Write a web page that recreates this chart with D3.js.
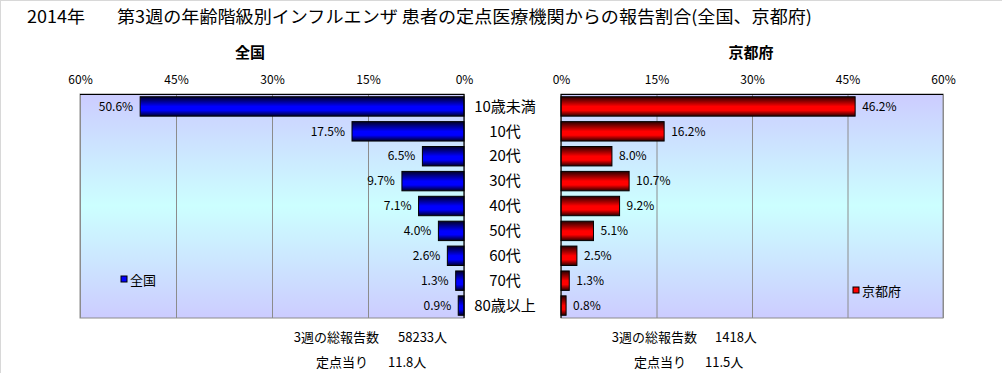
<!DOCTYPE html>
<html>
<head>
<meta charset="utf-8">
<script src="https://cdn.jsdelivr.net/npm/d3@7"></script>
<style>
  body { margin: 0; background: #fff; }
  text { font-family: "Noto Sans CJK JP", "DejaVu Sans", sans-serif; fill: #000; }
</style>
</head>
<body>
<svg id="chart" width="1002" height="373"></svg>
<script>
// age groups
var ageGroups = ["10歳未満", "10代", "20代", "30代", "40代", "50代", "60代", "70代", "80歳以上"];
// share of reports (%)
var zenkoku = [50.6, 17.5, 6.5, 9.7, 7.1, 4.0, 2.6, 1.3, 0.9];
var kyoto = [46.2, 16.2, 8.0, 10.7, 9.2, 5.1, 2.5, 1.3, 0.8];
var tickValues = [0, 15, 30, 45, 60];
var totalsZenkoku = ["58233人", "11.8人"];
var totalsKyoto = ["1418人", "11.5人"];

var svg = d3.select("#chart");
var defs = svg.append("defs");

// plot background
var bg = defs.append("linearGradient").attr("id", "bg").attr("x1", 0).attr("y1", 0).attr("x2", 0).attr("y2", 1);
bg.append("stop").attr("offset", "0%").attr("stop-color", "#ccccff");
bg.append("stop").attr("offset", "50%").attr("stop-color", "#ccffff");
bg.append("stop").attr("offset", "100%").attr("stop-color", "#ccccff");

function barGrad(id, dark, bright) {
    var g = defs.append("linearGradient").attr("id", id).attr("x1", 0).attr("y1", 0).attr("x2", 0).attr("y2", 1);
    g.append("stop").attr("offset", "0%").attr("stop-color", dark);
    g.append("stop").attr("offset", "50%").attr("stop-color", bright);
    g.append("stop").attr("offset", "70%").attr("stop-color", bright);
    g.append("stop").attr("offset", "100%").attr("stop-color", dark);
}
barGrad("blueBar", "#000028", "#0000ff");
barGrad("redBar", "#280000", "#ff0000");

// outer frame (only top/left visible)
svg.append("line").attr("x1", 0.5).attr("x2", 0.5).attr("y1", 0).attr("y2", 373).attr("stroke", "#d8d8d8");
svg.append("line").attr("x1", 0).attr("x2", 1002).attr("y1", 0.5).attr("y2", 0.5).attr("stroke", "#d8d8d8");

// title
svg.append("text").attr("x", 27).attr("y", 23).style("font-size", "17.5px")
    .attr("textLength", 58).attr("lengthAdjust", "spacingAndGlyphs").text("2014年");
svg.append("text").attr("x", 117).attr("y", 23).style("font-size", "17px")
    .attr("textLength", 695).attr("lengthAdjust", "spacingAndGlyphs")
    .text("第3週の年齢階級別インフルエンザ 患者の定点医療機関からの報告割合(全国、京都府)");

var plotTop = 94, plotBottom = 318;

var y = d3.scaleBand().domain(ageGroups).range([plotTop, plotBottom]).paddingInner(0.22).paddingOuter(0.11);

var xLeft = d3.scaleLinear().domain([0, 60]).range([464, 80]);
var xRight = d3.scaleLinear().domain([0, 60]).range([561, 943]);

function panel(x, values, grad, labelSide, subtitle, subX, legend) {
    var x0 = x(0), x1 = x(60);
    var left = Math.min(x0, x1), w = Math.abs(x1 - x0);

    svg.append("rect").attr("x", left).attr("y", plotTop).attr("width", w).attr("height", plotBottom - plotTop)
        .attr("fill", "url(#bg)").attr("stroke", "#8c8c8c");

    // grid
    svg.append("g").attr("transform", "translate(0," + plotTop + ")")
        .call(d3.axisTop(x).tickValues(tickValues).tickSize(-(plotBottom - plotTop)).tickFormat(""))
        .call(function (g) {
            g.select(".domain").remove();
            g.selectAll(".tick line").attr("stroke", "#8c8c8c");
        });

    // tick labels
    svg.append("g").attr("transform", "translate(0," + (plotTop - 10) + ")")
        .call(d3.axisTop(x).tickValues(tickValues).tickSize(0).tickPadding(0).tickFormat(function (d) { return d + "%"; }))
        .call(function (g) {
            g.select(".domain").remove();
            g.selectAll("text").style("font-size", "12px").style("font-family", "'Noto Sans CJK JP', sans-serif");
        });

    svg.append("line").attr("x1", left).attr("x2", left + w).attr("y1", plotTop + 0.5).attr("y2", plotTop + 0.5).attr("stroke", "#000");

    svg.append("text").attr("x", subX).attr("y", 58).attr("text-anchor", "middle")
        .style("font-size", "15px").style("font-weight", "bold").text(subtitle);

    svg.selectAll(null).data(values).enter().append("rect")
        .attr("x", function (d) { return Math.min(x(0), x(d)); })
        .attr("y", function (d, i) { return y(ageGroups[i]); })
        .attr("width", function (d) { return Math.abs(x(d) - x(0)); })
        .attr("height", y.bandwidth())
        .attr("fill", "url(#" + grad + ")")
        .attr("stroke", "#000").attr("stroke-width", 1);

    svg.selectAll(null).data(values).enter().append("text")
        .attr("x", function (d) { return x(d) + labelSide * 7; })
        .attr("y", function (d, i) { return y(ageGroups[i]) + y.bandwidth() / 2; })
        .attr("dy", "0.35em")
        .attr("text-anchor", labelSide < 0 ? "end" : "start")
        .style("font-size", "12px")
        .text(function (d) { return d.toFixed(1) + "%"; });

    // zero axis line
    svg.append("line").attr("x1", x0).attr("x2", x0).attr("y1", plotTop).attr("y2", plotBottom).attr("stroke", "#000");

    // legend
    svg.append("rect").attr("x", legend[0]).attr("y", legend[1] - 4).attr("width", 6).attr("height", 6)
        .attr("fill", grad == "blueBar" ? "#0000ff" : "#ff0000").attr("stroke", "#000");
    svg.append("text").attr("x", legend[0] + 9).attr("y", legend[1]).attr("dy", "0.35em")
        .style("font-size", "13px").text(legend[2]);
}

panel(xLeft, zenkoku, "blueBar", -1, "全国", 250, [121, 280, "全国"]);
panel(xRight, kyoto, "redBar", 1, "京都府", 751, [853, 291, "京都府"]);

// category labels
svg.append("g").selectAll("text").data(ageGroups).enter().append("text")
    .attr("x", 505)
    .attr("y", function (d) { return y(d) + y.bandwidth() / 2; })
    .attr("dy", "0.35em")
    .attr("text-anchor", "middle")
    .style("font-size", "15px")
    .text(function (d) { return d; });

// totals below panels
function totals(labelRight, valueLeft, vals) {
    svg.append("text").attr("x", labelRight).attr("y", 337).attr("dy", "0.35em").attr("text-anchor", "end")
        .style("font-size", "13px").text("3週の総報告数");
    svg.append("text").attr("x", valueLeft).attr("y", 337).attr("dy", "0.35em")
        .style("font-size", "13px").text(vals[0]);
    svg.append("text").attr("x", labelRight - 11).attr("y", 362).attr("dy", "0.35em").attr("text-anchor", "end")
        .style("font-size", "13px").text("定点当り");
    svg.append("text").attr("x", valueLeft - 10).attr("y", 362).attr("dy", "0.35em")
        .style("font-size", "13px").text(vals[1]);
}
totals(379, 398, totalsZenkoku);
totals(697, 715, totalsKyoto);
</script>
</body>
</html>
